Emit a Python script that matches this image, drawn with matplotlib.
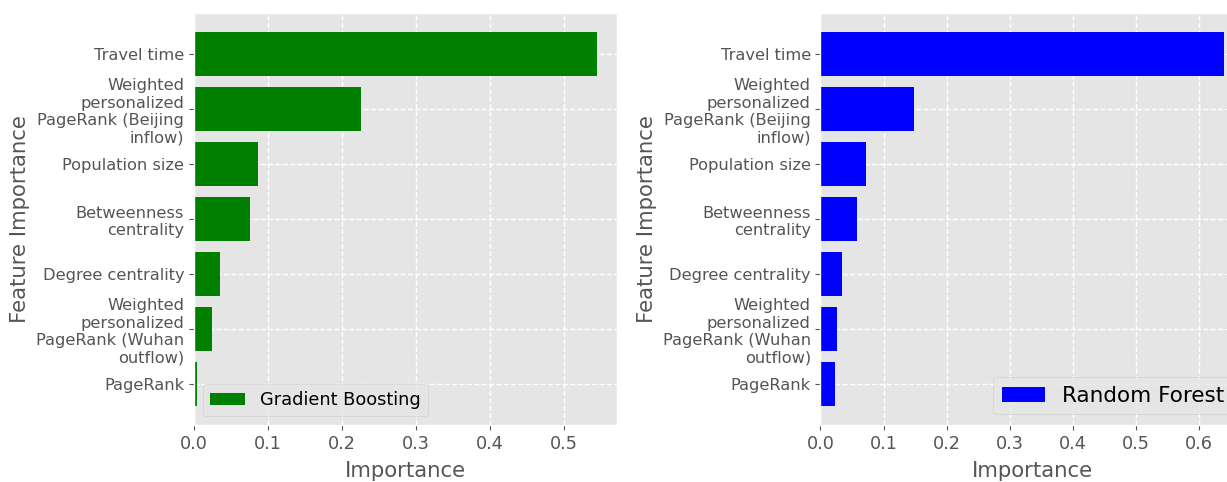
import matplotlib
matplotlib.use("Agg")
import matplotlib.pyplot as plt
import numpy as np

plt.style.use("ggplot")

# Features ordered from least to most important (bottom to top)
features = [
    "PageRank",
    "Weighted\npersonalized\nPageRank (Wuhan\noutflow)",
    "Degree centrality",
    "Betweenness\ncentrality",
    "Population size",
    "Weighted\npersonalized\nPageRank (Beijing\ninflow)",
    "Travel time",
]
gb_importance = [0.004, 0.024, 0.035, 0.076, 0.086, 0.226, 0.545]
rf_importance = [0.023, 0.026, 0.034, 0.058, 0.072, 0.148, 0.639]

fig = plt.figure(figsize=(12.27, 4.82), dpi=100)
ax1 = fig.add_axes([0.1580, 0.1183, 0.3451, 0.8541])
ax2 = fig.add_axes([0.6687, 0.1183, 0.3451, 0.8541])

y = np.arange(len(features))

for ax, vals, color, name, lfs, loc in [
    (ax1, gb_importance, "green", "Gradient Boosting", 12.8, "lower left"),
    (ax2, rf_importance, "blue", "Random Forest", 15.5, "lower right"),
]:
    ax.barh(y, vals, height=0.8, color=color, label=name)
    ax.set_yticks(y)
    ax.set_yticklabels(features, fontsize=11.7, linespacing=1.2)
    ax.tick_params(axis="x", labelsize=12.7)
    ax.set_xlabel("Importance", fontsize=15.3, labelpad=6)
    ax.set_ylabel("Feature Importance", fontsize=15.3)
    ax.grid(True, linestyle="--", color="white", linewidth=1)
    ax.legend(loc=loc, fontsize=lfs)

fig.savefig("out.png", dpi=100)
